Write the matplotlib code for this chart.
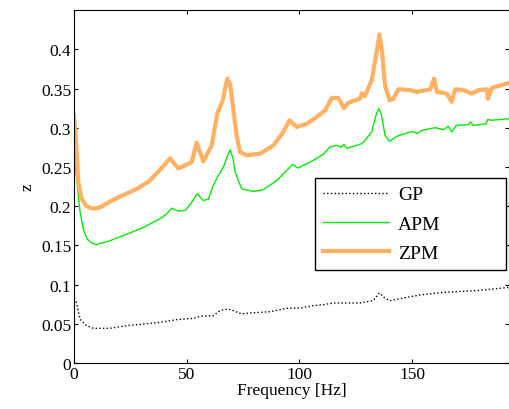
import matplotlib.pyplot as plt
import numpy as np

plt.rcParams['font.family'] = ['Liberation Serif', 'DejaVu Serif']

# values
freq_gp = [0, 0.9, 2.7, 5.6, 8.6, 16, 23.4, 30.8, 38.2, 45.6, 53, 55.9, 61.8, 64.8, 68.2,
           70.7, 74.4, 78, 87, 94.4, 100.3, 106.2, 110.7, 115.1, 126.9, 132.8, 135.5,
           138, 140.3, 147.7, 153.6, 164, 178.8, 193.5]
gp = [0.082, 0.0796, 0.056, 0.0477, 0.0443, 0.0443, 0.0477, 0.0498, 0.052, 0.0554, 0.057,
      0.0596, 0.0605, 0.0668, 0.069, 0.0668, 0.0626, 0.0638, 0.0655, 0.0698, 0.0702,
      0.0732, 0.0745, 0.0766, 0.0766, 0.0796, 0.0894, 0.0826, 0.0796, 0.0838, 0.0868,
      0.0902, 0.0924, 0.0966]

freq_apm = [0, 1.0, 2.7, 4.2, 5.9, 8.0, 10, 16, 24, 30.8, 38.2, 41.1, 43.4, 46.3, 49.3,
            51.5, 54.7, 57.4, 59.6, 61.8, 64, 66.3, 68, 69.2, 70.5, 71.5, 74.4, 79.6, 84, 90,
            95.1, 97, 99.3, 106.2, 110.7, 113.6, 116.6, 118.5, 119.8, 121, 126.9, 128.5,
            132.1, 134, 135.2, 136.3, 138, 140, 143.2, 149, 151, 152, 154.5, 160.2,
            164, 166, 167.6, 169.6, 174.9, 176, 177, 182.8, 183.6, 185, 193.5]
apm = [0.27, 0.24, 0.193, 0.17, 0.158, 0.153, 0.151, 0.156, 0.165, 0.173, 0.184, 0.19,
       0.1975, 0.1937, 0.1945, 0.2018, 0.2158, 0.2073, 0.209, 0.2264, 0.239, 0.25, 0.263,
       0.272, 0.262, 0.2435, 0.222, 0.2188, 0.221, 0.2328, 0.2478, 0.2533, 0.2486, 0.2584,
       0.2664, 0.2754, 0.2775, 0.275, 0.2786, 0.2737, 0.2788, 0.2818, 0.2946, 0.316, 0.3244,
       0.318, 0.2903, 0.2826, 0.289, 0.2946, 0.2946, 0.2925, 0.2967, 0.3001, 0.2975,
       0.302, 0.2946, 0.303, 0.304, 0.3073, 0.303, 0.305, 0.3107, 0.3095, 0.3116]

freq_zpm = [0, 1.0, 1.9, 3.4, 5.5, 8.6, 12, 16, 21, 27.8, 33, 38, 42.6, 46.3, 52.2, 54.4,
            57.4, 61.1, 63.6, 66, 67.2, 68.1, 69.3, 70.7, 72.2, 73.7, 76.6, 82.6, 88.5,
            92.9, 95.6, 98.8, 103.3, 107.7, 111.4, 114.4, 117.3, 119.8, 121.8, 126.9,
            127.7, 129, 132.1, 134.3, 135.5, 136.7, 138, 140, 141.7, 144, 149.1, 152.1,
            158, 159.8, 161, 165.4, 167.6, 169.1, 172.8, 176.5, 179.5, 183.2, 183.6,
            185.4, 190.5, 193.5]
zpm = [0.316, 0.28, 0.231, 0.2095, 0.2, 0.1967, 0.199, 0.206, 0.213, 0.222, 0.231, 0.2456,
       0.261, 0.248, 0.256, 0.281, 0.257, 0.2775, 0.318, 0.335, 0.352, 0.3627, 0.355,
       0.324, 0.289, 0.269, 0.265, 0.267, 0.2775, 0.2946, 0.3095, 0.301, 0.305, 0.3138,
       0.322, 0.338, 0.338, 0.325, 0.332, 0.337, 0.344, 0.34, 0.3605, 0.397, 0.419, 0.397,
       0.354, 0.335, 0.337, 0.349, 0.348, 0.3457, 0.349, 0.3627, 0.3457, 0.3436, 0.333,
       0.349, 0.348, 0.3436, 0.348, 0.349, 0.337, 0.3508, 0.355, 0.3576]

yticks = [0, 0.05, 0.1, 0.15, 0.2, 0.25, 0.3, 0.35, 0.4]
ytick_labels = ["0", "0.05", "0.1", "0.15", "0.2", "0.25", "0.3", "0.35", "0.4"]

fig = plt.figure(figsize=(5.1, 4.1), dpi=100)
ax = fig.add_axes([0.145, 0.112, 0.853, 0.861])

ax.plot(freq_gp, gp, color="black", linestyle=":", linewidth=1.0, label="GP")
ax.plot(freq_apm, apm, color="#00ee00", linewidth=1.0, label="APM")
ax.plot(freq_zpm, zpm, color="#ffb060", linewidth=3.0, label="ZPM")

ax.set_xlim(0, 193)
ax.set_ylim(0, 0.45)
ax.set_xticks([0, 50, 100, 150])
ax.set_yticks(yticks)
ax.set_yticklabels(ytick_labels)
ax.tick_params(direction="in", length=3, top=True, right=True, labelsize=12.5, pad=2)
ax.set_xlabel("Frequency [Hz]", fontsize=12.5, labelpad=0)
ax.set_ylabel("z", fontsize=12.5, labelpad=4)

# legend box placed where the reference has it
leg = ax.legend(loc="upper left", bbox_to_anchor=(0.555, 0.278, 0.438, 0.246), mode="expand",
                fontsize=14, handlelength=3.4, frameon=True, fancybox=False, framealpha=1,
                borderaxespad=0, labelspacing=0.6, handletextpad=0.45, borderpad=0.4)
leg.get_frame().set_edgecolor("black")
leg.get_frame().set_linewidth(1.0)

fig.savefig("out.png", dpi=100)
